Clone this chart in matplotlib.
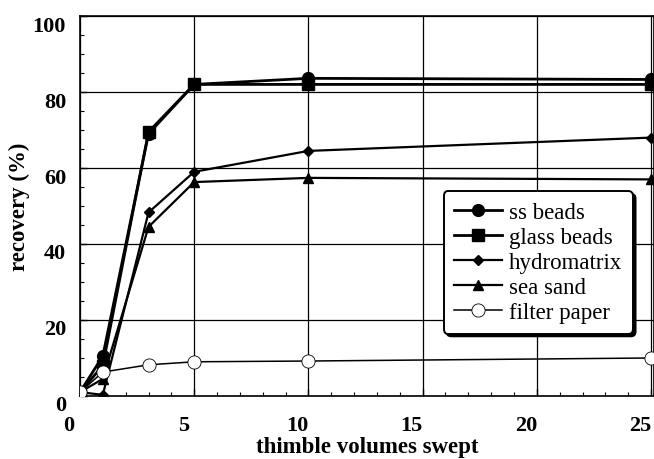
import numpy as np
import matplotlib
matplotlib.use("Agg")
import matplotlib.pyplot as plt
from matplotlib.ticker import MultipleLocator
from matplotlib.transforms import ScaledTranslation

# thimble volumes swept
volumes = [0, 1, 3, 5, 10, 25]

# recovery (%) for each packing material
ss_beads = [1, 10.5, 69, 82, 83.6, 83.3]
glass_beads = [1, 8, 69.5, 82, 82, 82]
hydromatrix = [1, 0.3, 48.3, 59, 64.5, 68]
sea_sand = [1, 4.5, 44.5, 56.3, 57.4, 57]
filter_paper = [1, 6.3, 8.2, 9, 9.2, 10]

plt.rcParams['font.family'] = ['Liberation Serif', 'DejaVu Serif']

fig = plt.figure(figsize=(6.54, 4.6), dpi=100)
ax = fig.add_axes([0.1223, 0.137, 0.8777, 0.826])

ax.plot(volumes, ss_beads, color='k', lw=2.0, marker='o', ms=8.5, label='ss beads', zorder=5)
ax.plot(volumes, glass_beads, color='k', lw=2.0, marker='s', ms=8.5, label='glass beads', zorder=4)
ax.plot(volumes, hydromatrix, color='k', lw=1.6, marker='D', ms=5.5, label='hydromatrix', zorder=4)
ax.plot(volumes, sea_sand, color='k', lw=1.6, marker='^', ms=6.5, label='sea sand', zorder=4)
ax.plot(volumes, filter_paper, color='k', lw=1.1, marker='o', ms=9.5, mfc='white', mec='k',
        mew=0.6, label='filter paper', zorder=6)

ax.set_xlim(0, 25.13)
ax.set_ylim(0, 100)
ax.xaxis.set_major_locator(MultipleLocator(5))
ax.xaxis.set_minor_locator(MultipleLocator(1))
ax.yaxis.set_major_locator(MultipleLocator(20))
ax.yaxis.set_minor_locator(MultipleLocator(5))
ax.grid(True, which='major', color='k', lw=0.9)
ax.tick_params(which='both', direction='in', top=False, right=False)
ax.tick_params(which='major', length=5, width=1)
ax.tick_params(which='minor', length=3, width=0.8)
ax.tick_params(axis='x', pad=14, labelsize=16)
ax.tick_params(axis='y', pad=10, labelsize=16)
for lab in ax.get_xticklabels() + ax.get_yticklabels():
    lab.set_fontweight('bold')
for spine in ax.spines.values():
    spine.set_linewidth(1.2)

# the printed tick numbers sit a little left / below the grid lines
for lab in ax.get_xticklabels():
    lab.set_transform(lab.get_transform() + ScaledTranslation(-11 / 100, 0, fig.dpi_scale_trans))
for lab in ax.get_yticklabels():
    lab.set_transform(lab.get_transform() + ScaledTranslation(0, -7 / 100, fig.dpi_scale_trans))

ax.set_xlabel('thimble volumes swept', fontsize=16.5, fontweight='bold', labelpad=0.5)
ax.set_ylabel('recovery (%)', fontsize=16.5, fontweight='bold', labelpad=2)

leg = ax.legend(loc='upper right', bbox_to_anchor=(0.963, 0.539), borderaxespad=0,
                fontsize=16.5, frameon=True, fancybox=True, framealpha=1, edgecolor='k',
                shadow={'color': 'k', 'alpha': 1}, handlelength=2.1,
                handletextpad=0.3, labelspacing=0.18, borderpad=0.45)
leg.get_frame().set_linewidth(1.4)
leg.set_zorder(10)

fig.savefig('out.png', dpi=100)
